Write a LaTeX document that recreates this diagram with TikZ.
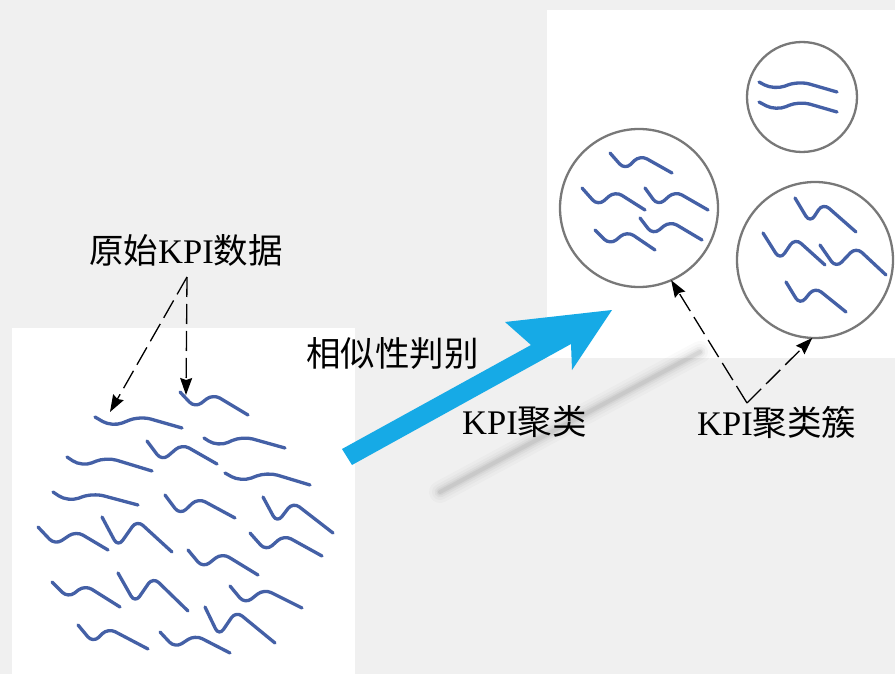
\documentclass[tikz,border=0pt]{standalone}
\usepackage{fontspec}
\setmainfont{Liberation Serif}
\newfontfamily\cjk{Noto Sans CJK SC}
\usetikzlibrary{arrows.meta}
\definecolor{bg}{HTML}{F0F0F0}
\definecolor{wave}{RGB}{68,96,166}
\definecolor{flow}{RGB}{22,170,230}
\definecolor{ring}{RGB}{120,120,120}
\newcommand{\zh}[1]{{\cjk #1}}
\newcommand{\sqb}[4]{\draw[wv, rounded corners=8pt] #1 -- #2 -- #3 -- #4;}
\newcommand{\sqa}[4]{\draw[wv, rounded corners=11pt] #1 -- #2 -- #3 -- #4;}
\begin{document}
\begin{tikzpicture}[x=1pt, y=-1pt,
  wv/.style={wave, line width=3.3pt, line cap=round, line join=round},
  ringnode/.style={circle, draw=ring, line width=2.3pt, inner sep=0pt, outer sep=0pt, fill=white},
  lbl/.style={font=\fontsize{34.5}{40}\selectfont, inner sep=0pt, anchor=base west},
  callout/.style={black, line width=1.3pt, dash pattern=on 20pt off 7pt, -{Stealth[length=17pt, width=12pt, inset=2pt]}},
  shadowline/.style={line cap=round, black}]
\useasboundingbox (0,0) rectangle (895,674);
\fill[bg] (0,0) rectangle (895,674);
% white panels
\fill[white] (12,328) rectangle (355,674);
\fill[white] (547,10) rectangle (895,358);
% faint shadow of the arrow
\foreach \w/\o in {22/0.02, 16/0.025, 11/0.03, 7/0.04, 4/0.05}
  \draw[shadowline, line width=\w pt, opacity=\o] (440,492) -- (700,352);
% raw KPI curves
\sqa{(95,417)}{(112,427)}{(140,416)}{(182,428)}
\sqb{(180,392)}{(195,408)}{(213,394)}{(248,415)}
\sqa{(204,438)}{(218,447)}{(242,436)}{(285,448)}
\sqb{(147,441)}{(162,461)}{(182,444)}{(217,464)}
\sqa{(67,457)}{(82,467)}{(106,457)}{(152,471)}
\sqa{(225,473)}{(241,482)}{(267,472)}{(310,485)}
\sqa{(53,492)}{(68,502)}{(93,493)}{(138,505)}
\sqb{(165,495)}{(180,515)}{(198,498)}{(235,518)}
\sqb{(263,497)}{(277,523)}{(293,502)}{(333,533)}
\sqb{(38,527)}{(55,545)}{(76,531)}{(108,550)}
\sqb{(102,517)}{(118,547)}{(137,520)}{(172,552)}
\sqb{(250,533)}{(266,551)}{(284,535)}{(322,556)}
\sqb{(188,550)}{(203,568)}{(222,553)}{(258,575)}
\sqb{(52,582)}{(68,598)}{(85,585)}{(120,607)}
\sqb{(118,573)}{(135,603)}{(153,577)}{(188,611)}
\sqb{(230,586)}{(245,604)}{(264,589)}{(302,608)}
\sqb{(78,625)}{(93,643)}{(108,628)}{(148,649)}
\sqb{(160,632)}{(175,648)}{(195,635)}{(230,653)}
\sqb{(205,607)}{(219,636)}{(236,611)}{(275,643)}
% clusters
\node[ringnode, minimum size=158pt] (cL) at (639,208) {};
\node[ringnode, minimum size=156pt] (cR) at (815,260) {};
\node[ringnode, minimum size=110pt] (cT) at (802,97) {};
\sqb{(610,153)}{(625,170)}{(640,155)}{(672,173)}
\sqb{(582,188)}{(598,206)}{(615,191)}{(645,210)}
\sqb{(645,188)}{(658,206)}{(675,191)}{(708,210)}
\sqb{(595,230)}{(610,245)}{(627,231)}{(655,250)}
\sqb{(640,218)}{(653,235)}{(670,221)}{(702,240)}
\sqb{(795,198)}{(810,223)}{(823,203)}{(856,232)}
\sqb{(763,233)}{(780,260)}{(795,238)}{(825,265)}
\sqb{(820,245)}{(836,268)}{(856,247)}{(886,275)}
\sqb{(786,282)}{(800,305)}{(815,287)}{(846,312)}
\sqa{(759,82)}{(774,90)}{(799,81)}{(837,92)}
\sqa{(759,102)}{(776,111)}{(799,101)}{(837,112)}
% big blue arrow
\fill[flow] (342,449) -- (531,345) -- (505,322) -- (612,310) -- (572,370) -- (571,344) -- (352,465) -- cycle;
% labels
\node[lbl] (lblA) at (89,263) {\zh{原始}KPI\zh{数据}};
\node[lbl] (lblB) at (306,366) {\zh{相似性判别}};
\node[lbl] (lblC) at (462,434) {KPI\zh{聚类}};
\node[lbl] (lblD) at (697,435) {KPI\zh{聚类簇}};
% callout arrows
\coordinate (apexA) at (187,277);
\coordinate (tA1) at (110,412);
\coordinate (tA2) at (186,395);
\coordinate (apexD) at (747,403);
\draw[callout] (apexA) -- (tA1);
\draw[callout] (apexA) -- (tA2);
\draw[callout] (apexD) -- (cL.-66);
\draw[callout] (apexD) -- (cR.-92);
\end{tikzpicture}
\end{document}
